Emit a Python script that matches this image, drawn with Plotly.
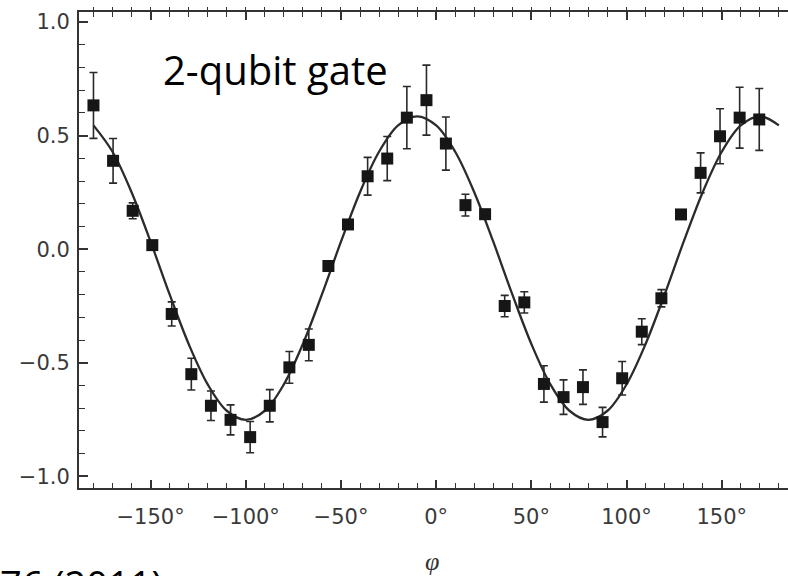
import plotly.graph_objects as go

# Measured phase settings (degrees), signal and error bars
phi_deg = [-180.0, -169.7, -159.4, -149.1, -138.9, -128.6, -118.3, -108.0, -97.7,
           -87.4, -77.1, -66.9, -56.6, -46.3, -36.0, -25.7, -15.4, -5.1,
           5.1, 15.4, 25.7, 36.0, 46.3, 56.6, 66.9, 77.1, 87.4,
           97.7, 108.0, 118.3, 128.6, 138.9, 149.1, 159.4, 169.7]
signal = [0.633, 0.389, 0.169, 0.018, -0.285, -0.550, -0.689, -0.751, -0.827,
          -0.689, -0.520, -0.421, -0.074, 0.109, 0.321, 0.399, 0.579, 0.656,
          0.465, 0.194, 0.154, -0.250, -0.234, -0.593, -0.651, -0.607, -0.761,
          -0.568, -0.363, -0.216, 0.153, 0.336, 0.497, 0.579, 0.571]
signal_err = [0.145, 0.098, 0.035, 0.010, 0.053, 0.070, 0.065, 0.066, 0.069,
              0.071, 0.070, 0.070, 0.012, 0.012, 0.083, 0.097, 0.137, 0.154,
              0.117, 0.048, 0.020, 0.047, 0.047, 0.080, 0.076, 0.076, 0.065,
              0.074, 0.057, 0.038, 0.020, 0.088, 0.121, 0.134, 0.136]

# Fitted fringe, sampled every 10 degrees
fit_phi = [-180, -170, -160, -150, -140, -130, -120, -110, -100, -90,
           -80, -70, -60, -50, -40, -30, -20, -10, 0, 10,
           20, 30, 40, 50, 60, 70, 80, 90, 100, 110,
           120, 130, 140, 150, 160, 170, 180]
fit_val = [0.545, 0.429, 0.251, 0.033, -0.199, -0.417, -0.595, -0.711, -0.751, -0.711,
           -0.595, -0.417, -0.199, 0.033, 0.251, 0.429, 0.545, 0.585, 0.545, 0.429,
           0.251, 0.033, -0.199, -0.417, -0.595, -0.711, -0.751, -0.711, -0.595, -0.417,
           -0.199, 0.033, 0.251, 0.429, 0.545, 0.585, 0.545]

X_RANGE = [-187.6, 184.8]
Y_RANGE = [-1.051, 1.044]

AX = "#333333"
TICKFONT = dict(family="DejaVu Sans, Arial, sans-serif", size=21, color="#3a3a3a")

fig = go.Figure()

fig.add_trace(go.Scatter(
    x=fit_phi, y=fit_val, mode="lines",
    line=dict(color="#2b2b2b", width=2.3, shape="spline", smoothing=1.0),
    hoverinfo="skip", showlegend=False,
))

fig.add_trace(go.Scatter(
    x=phi_deg, y=signal, mode="markers",
    marker=dict(symbol="square", size=12, color="#161616"),
    error_y=dict(type="data", array=signal_err, visible=True,
                 color="#2a2a2a", thickness=1.6, width=4),
    showlegend=False,
))

# empty trace so the top tick-only axis gets drawn
fig.add_trace(go.Scatter(x=[], y=[], xaxis="x2", yaxis="y",
                         hoverinfo="skip", showlegend=False))

fig.update_layout(
    width=788, height=576,
    margin=dict(l=79, r=0, t=12, b=88),
    paper_bgcolor="white", plot_bgcolor="white",
    showlegend=False,
    xaxis=dict(
        range=X_RANGE, tickmode="linear", tick0=0, dtick=50,
        ticksuffix="°", ticks="inside", ticklen=8, tickwidth=1.6, tickcolor=AX,
        minor=dict(tickmode="linear", tick0=0, dtick=10, ticks="inside",
                   ticklen=5, tickwidth=1.4, tickcolor=AX),
        showline=True, linecolor=AX, linewidth=2, mirror="ticks",
        showgrid=False, zeroline=False, automargin=False,
        tickfont=TICKFONT, ticklabelstandoff=9,
    ),
    xaxis2=dict(
        overlaying="x", side="top", range=X_RANGE,
        tickmode="linear", tick0=0, dtick=10,
        ticks="outside", ticklen=4, tickwidth=1.4, tickcolor=AX,
        showticklabels=False, showline=False, showgrid=False,
        zeroline=False, automargin=False,
    ),
    yaxis=dict(
        range=Y_RANGE, tickmode="linear", tick0=0, dtick=0.5,
        tickformat=".1f", ticks="inside", ticklen=9, tickwidth=1.6, tickcolor=AX,
        minor=dict(tickmode="linear", tick0=0, dtick=0.1, ticks="inside",
                   ticklen=6, tickwidth=1.4, tickcolor=AX),
        showline=True, linecolor=AX, linewidth=2, mirror=False,
        showgrid=False, zeroline=False, automargin=False,
        tickfont=TICKFONT, ticklabelstandoff=3,
    ),
    annotations=[
        dict(text="2-qubit gate", xref="x", yref="y", x=-144.5, y=0.792,
             xanchor="left", yanchor="middle", showarrow=False,
             font=dict(family="Open Sans, sans-serif", size=40, color="black")),
        dict(text="<i>φ</i>", xref="x", yref="paper", x=-2.2, y=-0.1546,
             xanchor="center", yanchor="middle", showarrow=False,
             font=dict(family="Liberation Serif, serif", size=26, color="#333333")),
        dict(text="76 (2011)", xref="paper", yref="paper", x=-0.114, y=-0.142,
             xanchor="left", yanchor="top", showarrow=False,
             font=dict(family="Open Sans, sans-serif", size=38, color="black")),
    ],
)

fig.write_html("out.html")
